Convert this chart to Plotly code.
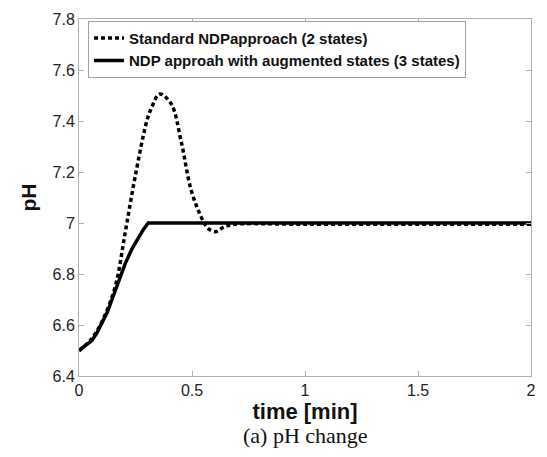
import plotly.graph_objects as go

# Data
t_std = [0.0, 0.05, 0.10, 0.16, 0.204, 0.248, 0.30, 0.32, 0.357, 0.408, 0.452, 0.496, 0.54, 0.569, 0.605, 0.642, 0.69, 1.0, 1.5, 2.0]
ph_std = [6.50, 6.54, 6.61, 6.75, 6.96, 7.18, 7.40, 7.45, 7.506, 7.467, 7.32, 7.13, 7.025, 6.98, 6.966, 6.985, 6.995, 6.995, 6.995, 6.995]

t_aug = [0.0, 0.03, 0.058, 0.08, 0.10, 0.125, 0.146, 0.175, 0.204, 0.235, 0.263, 0.285, 0.306, 0.5, 1.0, 1.5, 2.0]
ph_aug = [6.50, 6.52, 6.54, 6.57, 6.606, 6.65, 6.70, 6.77, 6.84, 6.90, 6.945, 6.975, 7.0, 7.0, 7.0, 7.0, 7.0]

x_ticks = [0, 0.5, 1, 1.5, 2]
x_ticklabels = ["0", "0.5", "1", "1.5", "2"]
y_ticks = [6.4, 6.6, 6.8, 7.0, 7.2, 7.4, 7.6, 7.8]
y_ticklabels = ["6.4", "6.6", "6.8", "7", "7.2", "7.4", "7.6", "7.8"]

fig = go.Figure()
fig.add_trace(go.Scatter(x=t_std, y=ph_std, mode="lines", line_shape="spline",
                         name="Standard NDPapproach (2 states)",
                         line=dict(color="black", width=3.5, dash="4px,3px")))
fig.add_trace(go.Scatter(x=t_aug, y=ph_aug, mode="lines", line_shape="linear",
                         name="NDP approah with augmented states (3 states)",
                         line=dict(color="black", width=3.5)))

axis_common = dict(showgrid=False, zeroline=False, mirror="ticks", showline=True,
                   linecolor="#b0b0b0", linewidth=1, ticks="inside", ticklen=5,
                   tickcolor="#b0b0b0",
                   tickfont=dict(family="Liberation Sans", size=16, color="#222222"))

fig.update_xaxes(range=[0, 2], tickvals=x_ticks, ticktext=x_ticklabels,
                 title=dict(text="<b>time [min]</b>", font=dict(family="Liberation Sans", size=22, color="#111111"), standoff=0),
                 **axis_common)
fig.update_yaxes(range=[6.4, 7.8], tickvals=y_ticks, ticktext=y_ticklabels,
                 title=dict(text="<b>pH</b>", font=dict(family="Liberation Sans", size=21, color="#111111"), standoff=10),
                 **axis_common)

fig.update_layout(
    width=547, height=457,
    margin=dict(l=79, r=11, t=18, b=81),
    plot_bgcolor="white", paper_bgcolor="white",
    font=dict(family="Liberation Sans", color="#222222"),
    showlegend=True,
    legend=dict(x=0.02, y=0.995, xanchor="left", yanchor="top",
                bgcolor="white", bordercolor="#a0a0a0", borderwidth=1,
                font=dict(family="Liberation Sans", size=15, color="#111111"),
                tracegroupgap=0, itemwidth=30),
    annotations=[dict(text="(a) pH change", x=0.5, y=-0.125, xref="paper", yref="paper",
                      xanchor="center", yanchor="top", showarrow=False,
                      font=dict(family="Liberation Serif", size=22, color="#111111"))],
)
# bold tick labels
fig.update_xaxes(tickprefix="<b>", ticksuffix="</b>")
fig.update_yaxes(tickprefix="<b>", ticksuffix="</b>")
fig.for_each_trace(lambda tr: tr.update(name="<b>" + tr.name + "</b>"))

fig.write_html("out.html")
